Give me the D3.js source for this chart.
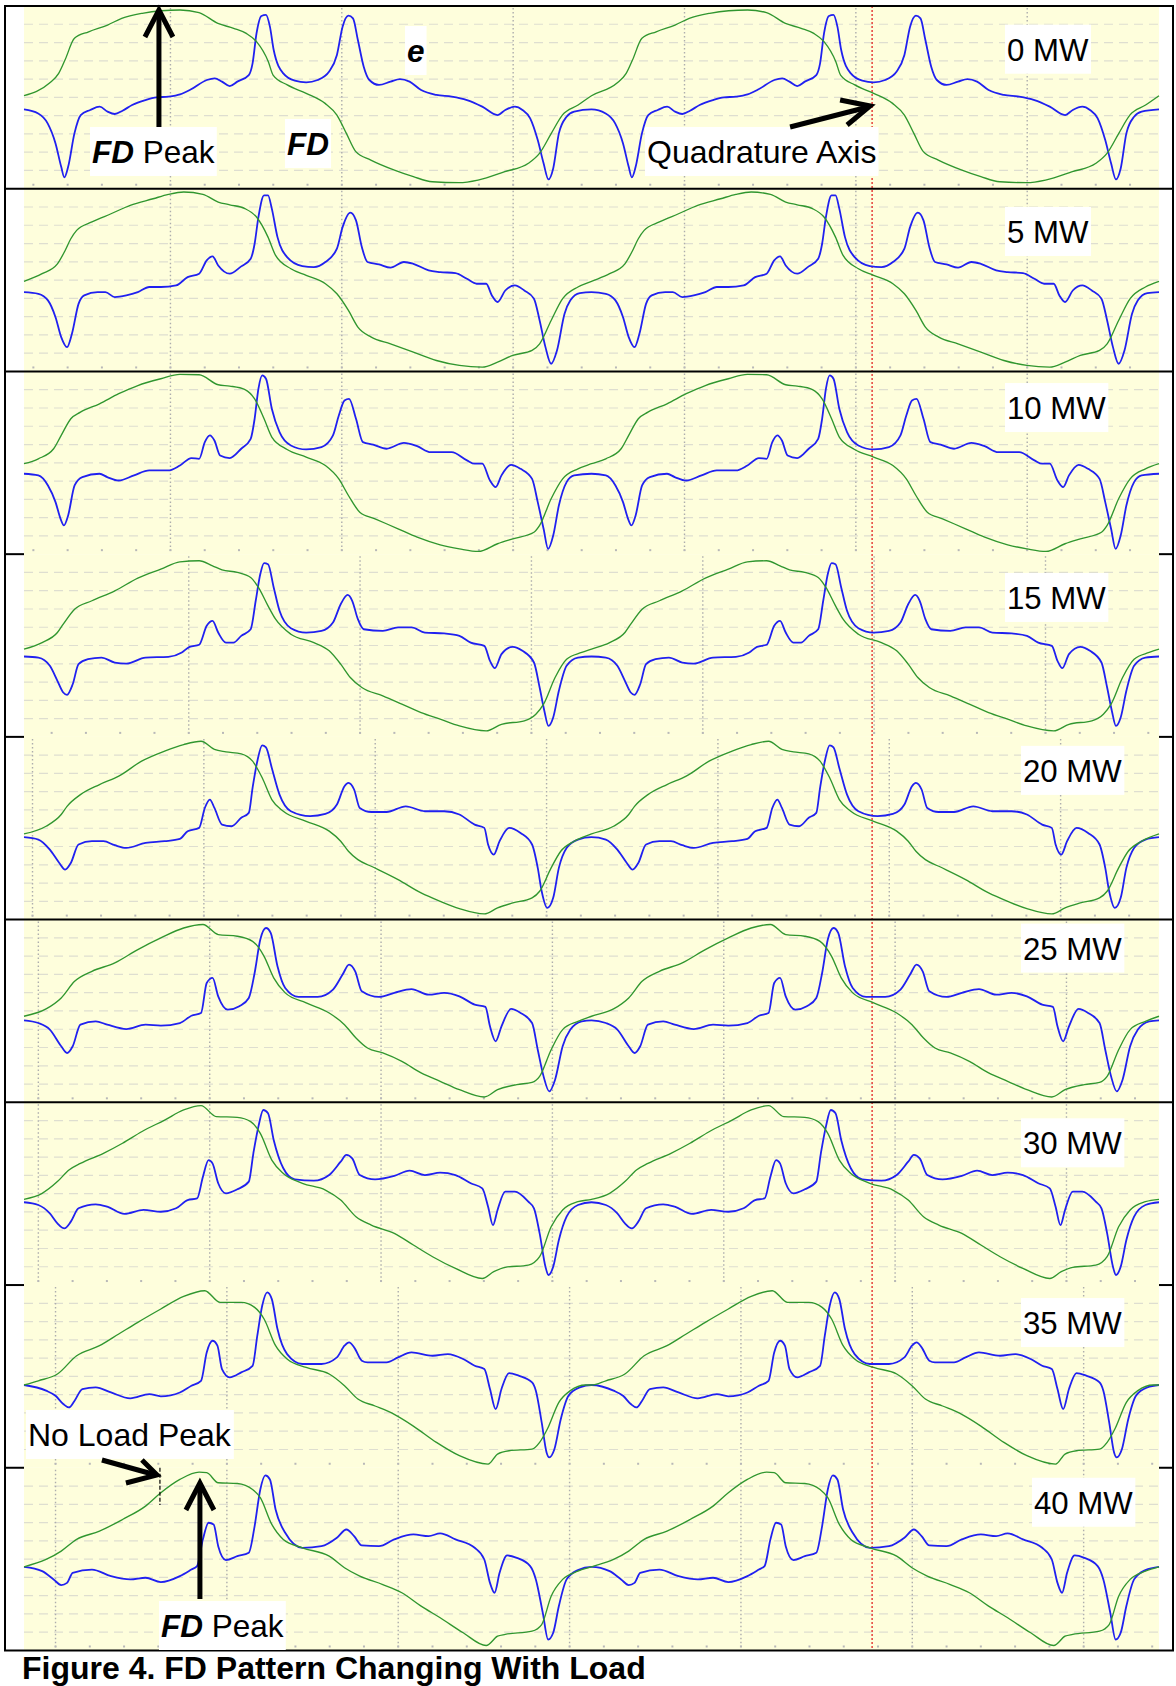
<!DOCTYPE html>
<html><head><meta charset="utf-8">
<script src="https://cdn.jsdelivr.net/npm/d3@7"></script>
<style>body{margin:0;background:#fff}svg{display:block}</style>
</head><body><svg id="c" width="1176" height="1686"></svg>
<script>
// ---- data: one revolution (electrical degrees, amplitude in scope divisions) ----
const loads = ["0 MW","5 MW","10 MW","15 MW","20 MW","25 MW","30 MW","35 MW","40 MW"];
const revolutions = [0, 360];
const fd0 = [[0,0.09],[16,0.77],[22,1.31],[26,2.04],[32,3.23],[41,3.59],[53,3.96],[62,4.32],[75,4.60],[87,4.74],[99,4.78],[111,4.64],[123,4.05],[133,3.78],[141,3.50],[147.5,3.05],[155,1.95],[158,1.22],[167,0.68],[179,0.22],[191,-0.33],[198.5,-0.97],[204.5,-1.97],[210.5,-2.97],[220,-3.43],[235,-3.98],[247,-4.34],[259,-4.62],[276,-4.67],[288,-4.53],[305,-4.07],[320,-3.61],[327,-3.07],[334.5,-1.97],[341.5,-0.97],[351.5,-0.42],[360,0.09]];
const e0 = [[0,-0.66],[9,-0.88],[15,-1.42],[20,-2.52],[23.6,-3.80],[25.6,-4.38],[28,-3.80],[32,-1.97],[36,-0.97],[42,-0.69],[48,-0.51],[53,-0.78],[57.6,-0.91],[62.5,-0.73],[68.6,-0.42],[77,-0.15],[84,0],[91.6,0.04],[99,0.16],[106,0.44],[116,0.95],[121,1.04],[125.6,0.86],[130.5,0.62],[135.3,0.86],[142.6,1.22],[145,1.86],[147.5,3.50],[150.6,4.45],[153.5,4.51],[156,3.87],[158.4,2.59],[164.5,1.31],[171.8,0.91],[179,0.82],[186.3,0.95],[193.6,1.41],[198.5,2.32],[202.1,3.87],[205.8,4.47],[208.7,4.32],[211.8,3.14],[215.5,1.68],[219.1,0.95],[225.2,0.68],[232.5,0.86],[238.5,1.00],[244.6,0.86],[251.9,0.40],[261.6,0.13],[271.3,0.04],[281,-0.15],[290.7,-0.51],[300.4,-0.97],[305.3,-0.69],[311.4,-0.51],[316.2,-0.69],[321.1,-1.15],[325.9,-2.34],[329.6,-3.61],[332.7,-4.49],[335.7,-3.89],[339.3,-1.97],[344.2,-1.06],[349,-0.78],[360,-0.66]];
const fd5 = [[0,-0.07],[11.5,0.35],[21.2,0.89],[26.1,1.62],[29.7,2.26],[33.4,2.72],[43.1,3.18],[55.2,3.63],[67.4,4.09],[81.9,4.45],[91.6,4.69],[101.3,4.82],[113.5,4.69],[123.2,4.27],[130.5,4.12],[140.2,3.91],[147.5,3.45],[154.8,2.35],[159.6,1.35],[169.3,0.62],[179,0.26],[191.2,-0.20],[198.5,-0.75],[205.8,-1.66],[211.8,-2.57],[220.3,-3.12],[232.5,-3.49],[247,-3.94],[261.6,-4.40],[276.2,-4.67],[290.7,-4.76],[300.4,-4.49],[310.1,-4.12],[322.3,-3.85],[327.1,-3.49],[334.4,-2.21],[341.7,-1.02],[351.4,-0.38],[360,-0.07]];
const e5 = [[0,-0.66],[9.1,-0.75],[15.2,-1.11],[20,-2.03],[23.6,-3.12],[27.3,-3.67],[30.4,-2.94],[34.6,-1.30],[38.2,-0.84],[46.7,-0.66],[51.6,-0.66],[57.6,-0.93],[64.9,-0.84],[72.2,-0.66],[79.5,-0.38],[86.8,-0.38],[96.5,-0.29],[103.8,0.16],[111.1,0.35],[115.9,1.08],[119.6,1.30],[123.2,0.80],[130.5,0.35],[137.8,0.75],[143.8,1.17],[146.3,1.99],[148.7,3.45],[152.3,4.64],[154.8,4.64],[157.2,3.91],[160.8,2.35],[166.9,1.26],[176.6,0.77],[183.9,0.71],[191.2,0.99],[198.5,1.72],[202.1,2.90],[207,3.69],[210.6,3.27],[214.3,1.81],[217.9,0.99],[225.2,0.86],[232.5,0.68],[241,0.99],[247,0.89],[256.7,0.53],[264,0.44],[273.7,0.38],[281,0.07],[287.1,-0.20],[293.2,-0.20],[296.8,-0.84],[300.4,-1.20],[305.3,-0.57],[311.4,-0.29],[317.4,-0.57],[323.5,-1.02],[327.1,-2.21],[330.8,-3.67],[334.4,-4.58],[338.1,-3.85],[342.9,-1.84],[346.6,-1.11],[352.6,-0.71],[360,-0.66]];
const fd10 = [[0,-0.05],[9.1,0.22],[18.8,0.77],[23.6,1.50],[29.7,2.41],[35.8,2.77],[47.9,3.23],[60.1,3.78],[72.2,4.23],[86.8,4.60],[98.9,4.84],[111.1,4.82],[123.2,4.27],[130.5,4.20],[140.2,4.01],[146.3,3.50],[152.3,2.41],[157.2,1.41],[166.9,0.73],[179,0.31],[191.2,-0.15],[199.7,-0.88],[205.8,-1.79],[213,-2.70],[222.7,-3.07],[237.3,-3.61],[249.4,-4.07],[264,-4.49],[276.2,-4.71],[288.3,-4.85],[300.4,-4.43],[310.1,-4.16],[323.5,-3.80],[327.1,-3.43],[334.4,-1.97],[341.7,-0.88],[351.4,-0.33],[360,-0.05]];
const e10 = [[0,-0.60],[9.1,-0.69],[15.2,-1.24],[20,-2.15],[23.2,-3.07],[25.3,-3.43],[28,-2.88],[32.1,-1.24],[37,-0.78],[47.9,-0.60],[52.8,-0.78],[60.1,-0.97],[69.8,-0.69],[79.5,-0.42],[91.6,-0.42],[98.9,-0.15],[106.2,0.26],[111.1,0.22],[114.7,1.13],[117.9,1.50],[120.8,1.22],[124.4,0.40],[130.5,0.26],[137.8,0.77],[143.8,1.31],[146.3,2.41],[148.7,4.05],[151.1,4.78],[153.5,4.60],[157.2,2.96],[162.1,1.68],[169.3,0.95],[179,0.73],[188.7,0.86],[196,1.50],[199.7,2.59],[203.3,3.41],[206.2,3.50],[210.6,2.41],[215,1.13],[221.5,0.99],[230,0.77],[241,1.09],[249.4,0.91],[258,0.58],[271.3,0.58],[281,0.13],[285.9,-0.05],[290.7,-0.05],[295.6,-0.97],[299.2,-1.33],[302.9,-0.69],[309,-0.11],[315,-0.33],[322.3,-0.88],[325.9,-2.15],[329.6,-3.61],[332.5,-4.71],[335.7,-3.98],[339.3,-2.34],[344.2,-1.06],[349,-0.69],[360,-0.60]];
const fd15 = [[0,-0.20],[11.5,0.16],[21.2,0.71],[24.9,1.17],[32.1,1.99],[43.1,2.45],[57.6,2.99],[72.2,3.69],[86.8,4.18],[98.9,4.58],[111.1,4.64],[119.6,4.36],[125.6,4.14],[135.3,4.00],[143.8,3.72],[148.7,3.18],[154.8,2.17],[159.6,1.44],[169.3,0.62],[183.9,0.16],[193.6,-0.29],[200.9,-1.02],[207,-1.75],[214.3,-2.30],[227.6,-2.76],[239.7,-3.21],[251.9,-3.67],[264,-4.03],[276.2,-4.40],[293.2,-4.67],[302.9,-4.31],[317.4,-4.12],[324.7,-3.76],[329.6,-3.21],[336.9,-1.75],[344.2,-0.75],[353.8,-0.38],[360,-0.20]];
const e15 = [[0,-0.60],[9.1,-0.66],[16.4,-1.11],[21.2,-1.93],[24.9,-2.57],[27.3,-2.70],[30.9,-2.12],[34.6,-1.02],[40.6,-0.75],[49.1,-0.66],[57.6,-0.93],[64.9,-0.99],[77.1,-0.66],[91.6,-0.62],[100.1,-0.38],[105,-0.07],[111.1,0.04],[115.9,1.08],[119.6,1.35],[123.2,0.71],[128.1,0.16],[132.9,0.16],[137.8,0.53],[143.8,0.89],[147,2.45],[149.9,3.91],[152.3,4.51],[154.8,4.45],[158.4,3.18],[162.1,1.90],[169.3,0.95],[179,0.71],[188.7,0.80],[196,1.26],[200.9,2.26],[205.3,2.77],[208.2,2.45],[211.8,1.44],[215.5,0.89],[227.6,0.80],[237.3,0.99],[245.8,0.99],[254.3,0.71],[266.5,0.66],[276.2,0.53],[283.4,0.16],[292,-0.02],[295.6,-0.84],[298.7,-1.24],[302.9,-0.47],[310.1,-0.07],[316.2,-0.29],[323.5,-0.93],[327.1,-2.30],[330.1,-3.58],[332.7,-4.40],[335.7,-3.94],[339.3,-2.48],[344.2,-1.11],[351.4,-0.66],[360,-0.60]];
const fd20 = [[0,-0.31],[14,0.11],[23.6,0.75],[27.3,1.20],[35.8,1.84],[47.9,2.39],[60.1,2.85],[74.6,3.67],[89.2,4.22],[101.3,4.58],[112.3,4.76],[120.8,4.31],[128.1,4.18],[137.8,4.07],[145,3.67],[151.1,2.76],[157.2,1.57],[164.5,0.93],[179,0.38],[193.6,-0.16],[200.9,-0.71],[205.8,-1.26],[211.8,-1.72],[220.3,-2.08],[237.3,-2.81],[251.9,-3.54],[264,-4.00],[276.2,-4.40],[292,-4.69],[300.4,-4.36],[310.1,-4.09],[322.3,-3.81],[327.1,-3.45],[334.4,-2.17],[340.5,-1.26],[349,-0.71],[360,-0.31]];
const e20 = [[0,-0.49],[9.1,-0.62],[16.4,-1.17],[22.4,-1.90],[26.1,-2.26],[29.7,-1.90],[34.6,-0.89],[43.1,-0.71],[50.4,-0.71],[57.6,-0.93],[64.9,-1.08],[77.1,-0.80],[89.2,-0.71],[98.9,-0.58],[103.8,-0.16],[111.1,0.02],[114.7,1.11],[117.9,1.57],[120.8,1.11],[125.6,0.20],[131.7,0.11],[137.8,0.57],[142.6,0.84],[145,2.21],[148,3.67],[151.1,4.54],[153.5,4.43],[157.2,3.30],[162.1,1.84],[169.3,0.93],[181.5,0.66],[191.2,0.78],[198.5,1.30],[203.3,2.30],[205.8,2.48],[209.4,2.12],[213,1.11],[220.3,0.89],[230,0.89],[242.2,1.20],[254.3,0.93],[266.5,0.93],[276.2,0.75],[285.9,0.20],[292,0.02],[294.4,-0.89],[298,-1.44],[301.7,-0.71],[307.7,0.02],[315,-0.26],[322.3,-0.89],[325.9,-2.17],[328.4,-3.45],[332,-4.36],[335.7,-3.81],[339.3,-2.17],[344.2,-1.08],[351.4,-0.62],[360,-0.49]];
const fd25 = [[0,-0.29],[14,0.11],[23.6,0.71],[32.1,1.62],[43.1,2.17],[57.6,2.63],[72.2,3.36],[86.8,4.00],[101.3,4.54],[113.5,4.73],[123.2,4.18],[135.3,4.09],[145,3.81],[152.3,2.99],[158.4,1.81],[165.7,0.99],[179,0.44],[193.6,-0.11],[203.3,-0.75],[210.6,-1.48],[217.9,-2.03],[227.6,-2.30],[239.7,-2.76],[251.9,-3.39],[264,-3.85],[276.2,-4.31],[292,-4.71],[300.4,-4.31],[312.6,-4.03],[322.3,-3.91],[327.1,-3.58],[334.4,-2.12],[341.7,-1.02],[351.4,-0.57],[360,-0.29]];
const e25 = [[0,-0.51],[9.1,-0.66],[16.4,-1.02],[23.6,-1.93],[27.3,-2.30],[30.9,-1.93],[35.8,-0.75],[45.5,-0.57],[52.8,-0.75],[64.9,-0.99],[77.1,-0.75],[86.8,-0.80],[98.9,-0.66],[106.2,-0.26],[112.3,-0.11],[115.9,1.53],[119.6,1.81],[123.2,0.80],[129.3,0.07],[136.6,0.26],[142.6,0.71],[146.3,2.08],[149.9,3.91],[153.5,4.54],[156.5,4.27],[160.8,2.45],[165.7,1.26],[174.2,0.77],[186.3,0.77],[196,1.17],[202.1,1.99],[206.2,2.54],[210.1,2.17],[214.3,1.08],[225.2,0.77],[234.9,0.99],[245.8,1.20],[256.7,0.89],[266.5,0.99],[276.2,0.80],[285.9,0.35],[292.7,0.22],[295.6,-0.84],[299.2,-1.66],[302.9,-0.84],[309,0.11],[315,-0.11],[322.3,-0.66],[325.9,-2.12],[329.6,-3.58],[333.2,-4.40],[336.9,-3.76],[341.7,-1.93],[346.6,-1.02],[353.8,-0.57],[360,-0.51]];
const fd30 = [[0,-0.31],[11.5,0.02],[21.2,0.66],[28.5,1.30],[35.8,1.66],[50.4,2.21],[62.5,2.76],[74.6,3.39],[89.2,4.03],[101.3,4.58],[112.3,4.82],[122,4.22],[135.3,4.18],[143.8,3.94],[149.9,3.30],[157.2,1.84],[164.5,1.11],[176.6,0.57],[191.2,0.20],[200.9,-0.35],[210.6,-1.26],[220.3,-1.72],[234.9,-2.17],[247,-2.81],[259.2,-3.45],[273.7,-4.09],[290.7,-4.64],[298,-4.27],[305.3,-4.03],[319.9,-3.91],[327.1,-3.45],[334.4,-1.81],[341.7,-0.89],[351.4,-0.44],[360,-0.31]];
const e30 = [[0,-0.47],[9.1,-0.62],[16.4,-1.08],[21.2,-1.62],[25.6,-1.90],[29.7,-1.53],[34.6,-0.80],[45.5,-0.58],[52.8,-0.71],[63.7,-1.11],[75.9,-0.89],[86.8,-0.99],[96.5,-0.80],[103.8,-0.35],[109.8,-0.26],[113.5,0.93],[117.1,1.84],[119.6,1.66],[123.2,0.57],[128.1,0.02],[135.3,0.24],[142.6,0.66],[145.5,2.21],[148.7,3.67],[151.8,4.58],[154.8,4.40],[158.4,2.94],[164.5,1.39],[171.8,0.78],[183.9,0.71],[193.6,1.02],[200.9,1.75],[204.5,2.12],[208.2,1.93],[213,1.02],[222.7,0.78],[234.9,0.97],[244.6,1.26],[254.3,1.02],[264,1.15],[273.7,1.02],[283.4,0.57],[290.7,0.29],[294.4,-0.71],[297.5,-1.72],[300.4,-0.89],[305.3,0.11],[311.4,0.11],[319.9,-0.44],[323.5,-0.80],[327.1,-2.17],[330.8,-4.00],[332.7,-4.45],[335.7,-4.00],[339.3,-2.54],[344.2,-1.26],[351.4,-0.62],[360,-0.47]];
const fd35 = [[0,-0.47],[9.1,-0.24],[21.2,0.13],[33.4,1.13],[47.9,1.68],[60.1,2.32],[72.2,2.96],[86.8,3.69],[101.3,4.38],[114.7,4.69],[124.4,4.05],[137.8,4.05],[146.3,3.78],[152.3,3.14],[159.6,1.68],[166.9,0.95],[179,0.49],[193.6,0.13],[203.3,-0.51],[211.8,-1.24],[222.7,-1.62],[234.9,-2.08],[247,-2.72],[261.6,-3.61],[276.2,-4.34],[294.4,-4.80],[300.4,-4.25],[307.7,-4.07],[322.3,-3.98],[327.1,-3.61],[332,-2.88],[339.3,-1.42],[346.6,-0.78],[356.3,-0.47],[360,-0.47]];
const e35 = [[0,-0.47],[14,-0.78],[20,-1.06],[24.9,-1.51],[28.5,-1.70],[32.1,-1.33],[37,-0.69],[45.5,-0.60],[55.2,-0.88],[67.4,-1.20],[79.5,-0.97],[86.8,-1.09],[98.9,-0.88],[106.2,-0.51],[112.3,-0.24],[115.9,1.31],[119.6,1.95],[122.7,1.68],[125.6,0.40],[130.5,-0.05],[137.8,0.22],[145,0.58],[148,2.23],[151.1,3.87],[154.3,4.60],[157.2,4.23],[160.8,2.59],[166.9,1.22],[176.6,0.68],[188.7,0.68],[198.5,1.04],[203.3,1.68],[206.2,1.86],[209.4,1.59],[214.3,0.86],[217.9,0.77],[230,0.77],[237.3,1.04],[245.8,1.31],[259.2,1.13],[268.9,1.22],[278.6,0.95],[285.9,0.58],[292,0.40],[295.6,-0.69],[299.2,-1.79],[302.9,-0.69],[307.7,0.18],[313.8,0.04],[322.3,-0.33],[324.7,-0.78],[328.4,-2.52],[331.5,-4.16],[333.2,-4.43],[336.4,-4.00],[340.5,-2.34],[345.4,-1.06],[352.6,-0.60],[360,-0.47]];
const fd40 = [[0,-0.42],[14,-0.02],[23.6,0.44],[33.4,1.08],[47.9,1.53],[62.5,2.17],[77.1,2.90],[86.8,3.63],[98.9,4.36],[111.1,4.76],[115.9,4.73],[123.2,4.18],[135.3,4.14],[145,3.81],[149.9,3.36],[157.2,1.90],[164.5,1.08],[176.6,0.62],[193.6,0.16],[203.3,-0.47],[213,-0.93],[227.6,-1.39],[239.7,-1.84],[251.9,-2.57],[264,-3.21],[278.6,-4.03],[293.2,-4.73],[300.4,-4.22],[305.3,-4.12],[322.3,-3.94],[328.4,-3.58],[334.4,-2.03],[341.7,-1.11],[351.4,-0.66],[360,-0.42]];
const e40 = [[0,-0.42],[11.5,-0.66],[18.8,-1.11],[23.6,-1.42],[27.3,-1.30],[30.9,-0.75],[43.1,-0.57],[55.2,-0.93],[67.4,-1.11],[77.1,-1.02],[86.8,-1.26],[98.9,-0.93],[106.2,-0.57],[109.8,-0.38],[113.5,1.08],[117.1,1.99],[120.3,1.90],[123.2,0.71],[128.1,-0.05],[135.3,0.16],[142.6,0.35],[146.3,1.81],[149.9,3.81],[153.1,4.58],[156,4.36],[159.6,2.72],[165.7,1.44],[176.6,0.62],[188.7,0.71],[198.5,1.17],[204.5,1.62],[209.4,1.26],[214.3,0.75],[225.2,0.71],[234.9,1.08],[247,1.35],[256.7,1.26],[264,1.41],[273.7,1.08],[285.9,0.62],[292,-0.02],[295.6,-1.30],[298.5,-1.84],[301.7,-0.75],[306.5,0.20],[312.6,0.07],[321.1,-0.38],[324.7,-1.11],[329.1,-2.94],[332.5,-4.40],[335.7,-4.03],[339.3,-2.57],[344.2,-1.11],[351.4,-0.60],[360,-0.42]];
const fdSeries = [fd0, fd5, fd10, fd15, fd20, fd25, fd30, fd35, fd40];
const eSeries = [e0, e5, e10, e15, e20, e25, e30, e35, e40];
// scope graticule phase per capture (degrees) and division width (degrees)
const gridPhase = [92.9, 92.9, 92.9, 104.5, 5.4, 9.1, 9.1, 20, 20];
const gridStep = 108.7;
const quadratureDeg = 538;
const fdPeakNoLoadDeg = 85.6;
const fdPeakFullLoadDeg = 111.6;

// ---- layout ----
const svg = d3.select("#c");
const x = d3.scaleLinear().domain([0, 720]).range([24, 1159]);
const top0 = 6, panelH = 182.72, nP = loads.length;
const panelTop = i => top0 + i * panelH;
const yOf = i => d3.scaleLinear().domain([-5, 5]).range([panelTop(i) + panelH, panelTop(i)]);
const labelX = [1007, 1007, 1007, 1007, 1023, 1023, 1023, 1023, 1034];
const labelBase = [54.7, 54.3, 47.6, 54.8, 45, 40, 52, 49, 46];
const fullLines = [0, 1, 2, 5, 6, 9];
const FONT = "'Liberation Sans', Arial, sans-serif";

const gBg = svg.append("g"), gGrid = svg.append("g"), gCurves = svg.append("g"),
      gFrame = svg.append("g"), gAnn = svg.append("g");

for (let i = 0; i < nP; i++) {
  const y = yOf(i);
  const t = panelTop(i), b = t + panelH;
  gBg.append("rect").attr("x", x(0)).attr("y", t).attr("width", x(720) - x(0)).attr("height", panelH).attr("fill", "#fefedc");
  gGrid.selectAll(null).data(d3.range(-4, 5)).join("line")
    .attr("x1", x(0)).attr("x2", x(720)).attr("y1", d => y(d)).attr("y2", d => y(d))
    .attr("stroke", "#deded0").attr("stroke-width", 1.2).attr("stroke-dasharray", "9,6");
  const vt = d3.range(gridPhase[i], 720, gridStep);
  gGrid.selectAll(null).data(vt).join("line")
    .attr("x1", d => x(d)).attr("x2", d => x(d)).attr("y1", t + 2).attr("y2", b - 2)
    .attr("stroke", "#adadad").attr("stroke-width", 1.4).attr("stroke-dasharray", "1.5,2.5");
  const mt = d3.range(gridPhase[i] - gridStep, 720, gridStep / 5).filter(d => d >= 0);
  gGrid.selectAll(null).data(mt).join("rect")
    .attr("x", d => x(d) - 1).attr("y", b - 5).attr("width", 2).attr("height", 2).attr("fill", "#b8b8b8");
}
gGrid.append("line").attr("x1", x(quadratureDeg)).attr("x2", x(quadratureDeg))
  .attr("y1", panelTop(0)).attr("y2", panelTop(nP))
  .attr("stroke", "#e01010").attr("stroke-width", 1.2).attr("stroke-dasharray", "2,2");

const tile = s => revolutions.flatMap((r, k) => (k === 0 ? s : s.slice(1)).map(d => [d[0] + r, d[1]]));
for (let i = 0; i < nP; i++) {
  const y = yOf(i);
  const line = d3.line().x(d => x(d[0])).y(d => y(d[1])).curve(d3.curveMonotoneX);
  gCurves.append("path").attr("d", line(tile(eSeries[i]))).attr("fill", "none")
    .attr("stroke", "#2020f0").attr("stroke-width", 1.8).attr("stroke-linejoin", "round");
  gCurves.append("path").attr("d", line(tile(fdSeries[i]))).attr("fill", "none")
    .attr("stroke", "#30962f").attr("stroke-width", 1.35).attr("stroke-linejoin", "round");
}

const L = 5, R = 1173;
gFrame.append("line").attr("x1", L).attr("x2", L).attr("y1", panelTop(0)).attr("y2", panelTop(nP)).attr("stroke", "#000").attr("stroke-width", 2);
gFrame.append("line").attr("x1", R).attr("x2", R).attr("y1", panelTop(0)).attr("y2", panelTop(nP)).attr("stroke", "#000").attr("stroke-width", 2);
for (let k = 0; k <= nP; k++) {
  const yy = panelTop(k);
  if (fullLines.includes(k)) {
    gFrame.append("line").attr("x1", L - 1).attr("x2", R + 1).attr("y1", yy).attr("y2", yy).attr("stroke", "#000").attr("stroke-width", 2);
  } else {
    gFrame.append("line").attr("x1", L - 1).attr("x2", x(0)).attr("y1", yy).attr("y2", yy).attr("stroke", "#000").attr("stroke-width", 2);
    gFrame.append("line").attr("x1", x(720)).attr("x2", R + 1).attr("y1", yy).attr("y2", yy).attr("stroke", "#000").attr("stroke-width", 2);
  }
}

function boxText(g, xx, base, parts, fs = 31.5, padX = 2) {
  const grp = g.append("g");
  const rect = grp.append("rect").attr("fill", "#fff");
  const t = grp.append("text").attr("x", xx).attr("y", base).attr("font-family", FONT).attr("font-size", fs).attr("fill", "#000");
  parts.forEach(p => t.append("tspan").text(p.t).attr("font-weight", p.b ? "bold" : "normal").attr("font-style", p.i ? "italic" : "normal"));
  const bb = t.node().getBBox();
  rect.attr("x", bb.x - padX).attr("y", base - 36).attr("width", bb.width + 2 * padX).attr("height", 49);
  return grp;
}
for (let i = 0; i < nP; i++) boxText(gAnn, labelX[i], panelTop(i) + labelBase[i], [{t: loads[i]}], 31.2);

boxText(gAnn, 92, 163, [{t: "FD", b: 1, i: 1}, {t: " Peak"}]);
boxText(gAnn, 287, 155, [{t: "FD", b: 1, i: 1}]);
boxText(gAnn, 407, 62, [{t: "e", b: 1, i: 1}]);
boxText(gAnn, 647, 163, [{t: "Quadrature Axis"}], 32);
boxText(gAnn, 28, 1446, [{t: "No Load Peak"}], 32);
boxText(gAnn, 161, 1637, [{t: "FD", b: 1, i: 1}, {t: " Peak"}]);

const arr = gAnn.append("g").attr("stroke", "#000").attr("fill", "none").attr("stroke-width", 5);
const ax1 = x(fdPeakNoLoadDeg);
arr.append("line").attr("x1", ax1).attr("x2", ax1).attr("y1", 127).attr("y2", 10);
arr.append("polyline").attr("points", `${ax1-14},37 ${ax1},10 ${ax1+14},37`);
const qx = x(quadratureDeg);
arr.append("line").attr("x1", qx - 82).attr("y1", 127).attr("x2", qx - 4).attr("y2", 107);
arr.append("polyline").attr("points", `${qx-32},100 ${qx-2},106 ${qx-25},125`);
const ax2 = x(fdPeakFullLoadDeg);
arr.append("line").attr("x1", ax2).attr("x2", ax2).attr("y1", 1599).attr("y2", 1484);
arr.append("polyline").attr("points", `${ax2-14},1510 ${ax2},1483 ${ax2+14},1510`);
const nx = x(fdPeakNoLoadDeg) + 1;
arr.append("line").attr("x1", nx - 58).attr("y1", 1460).attr("x2", nx - 4).attr("y2", 1475);
arr.append("polyline").attr("points", `${nx-34},1483 ${nx-3},1475 ${nx-18},1460`);
gAnn.append("line").attr("x1", nx).attr("x2", nx).attr("y1", panelTop(8)).attr("y2", 1505)
  .attr("stroke", "#000").attr("stroke-width", 1.2).attr("stroke-dasharray", "4,2");

svg.append("text").attr("x", 22).attr("y", 1679).attr("font-family", FONT).attr("font-weight", "bold")
  .attr("font-size", 32).attr("fill", "#000").text("Figure 4. FD Pattern Changing With Load");
</script></body></html>
